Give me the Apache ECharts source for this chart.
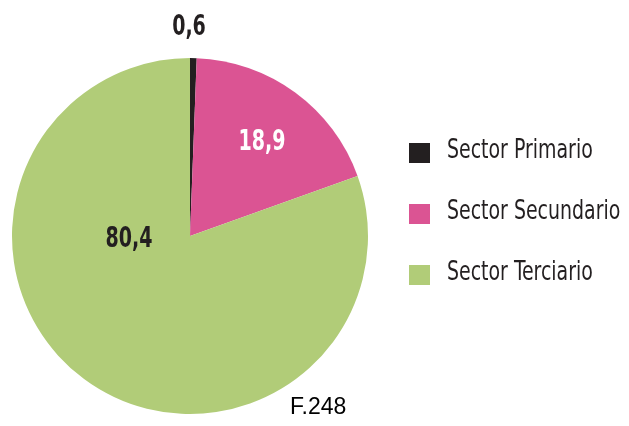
<!DOCTYPE html>
<html>
<head>
<meta charset="utf-8">
<script src="https://cdn.jsdelivr.net/npm/echarts@6/dist/echarts.min.js"></script>
<style>
  html, body { margin: 0; padding: 0; background: #ffffff; }
  #chart { width: 629px; height: 426px; }
</style>
</head>
<body>
<div id="chart"></div>
<script>
// Employment share by sector (%)
const sectors = ['Sector Primario', 'Sector Secundario', 'Sector Terciario'];
const shares = [0.6, 18.9, 80.4];
const sectorColors = ['#231f20', '#db5493', '#b1cc78'];
const labelColors = ['#231f20', '#ffffff', '#231f20'];
const figureTag = 'F.248';

const condensed = '"DejaVu Sans Condensed", "DejaVu Sans", sans-serif';

// Value label centres and legend row centres (px)
const valueSpots = [[189, 27], [262, 142], [129, 239]];
const legendTextX = 447;
const legendRowY = [151, 212, 273];

const fmt = v => String(v).replace('.', ',');

const chart = echarts.init(document.getElementById('chart'), null, { renderer: 'canvas' });

// Condensed text: the face is squeezed horizontally to a narrow display look
const valueTexts = shares.map((v, i) => ({
  type: 'text',
  x: valueSpots[i][0],
  y: valueSpots[i][1],
  scaleX: 0.73,
  z: 100,
  silent: true,
  style: {
    text: fmt(v),
    font: 'bold 29px ' + condensed,
    fill: labelColors[i],
    align: 'center',
    verticalAlign: 'middle'
  }
}));

const legendTexts = sectors.map((name, i) => ({
  type: 'text',
  x: legendTextX,
  y: legendRowY[i],
  scaleX: 0.78,
  z: 100,
  silent: true,
  style: {
    text: name,
    font: '27px ' + condensed,
    fill: '#231f20',
    align: 'left',
    verticalAlign: 'middle'
  }
}));

chart.setOption({
  animation: false,
  backgroundColor: '#ffffff',
  legend: {
    orient: 'vertical',
    left: 409,
    top: 143,
    padding: 0,
    icon: 'rect',
    itemWidth: 21,
    itemHeight: 20,
    itemGap: 41,
    selectedMode: false,
    data: sectors,
    formatter: () => '',
    textStyle: { fontSize: 12 }
  },
  series: [{
    type: 'pie',
    center: [190, 236],
    radius: [0, 178],
    startAngle: 90,
    clockwise: true,
    silent: true,
    itemStyle: { borderWidth: 0 },
    label: { show: false },
    labelLine: { show: false },
    data: sectors.map((name, i) => ({
      name: name,
      value: shares[i],
      itemStyle: { color: sectorColors[i] }
    }))
  }],
  graphic: valueTexts.concat(legendTexts, [{
    type: 'text',
    x: 290,
    y: 396,
    z: 100,
    silent: true,
    style: {
      text: figureTag,
      font: '23px "Liberation Sans", Arial, sans-serif',
      fill: '#000000'
    }
  }])
});
</script>
</body>
</html>
